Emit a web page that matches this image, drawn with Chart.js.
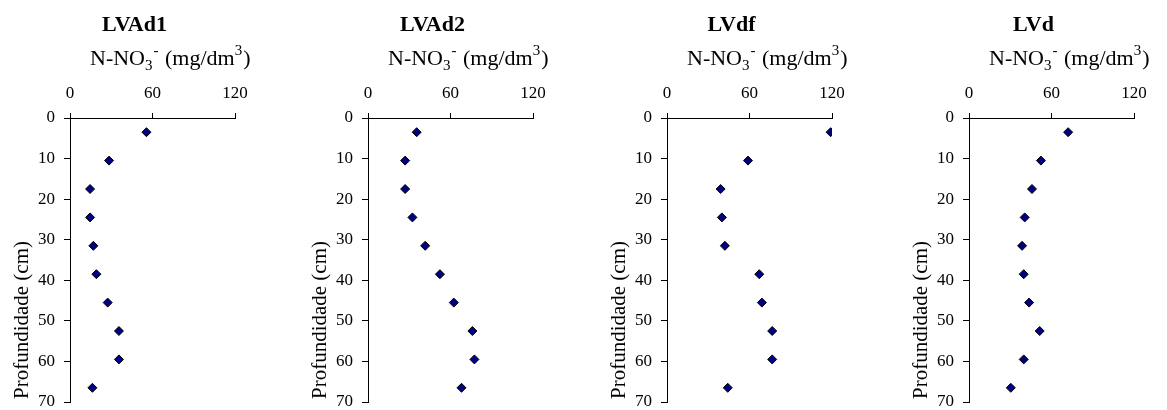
<!DOCTYPE html>
<html>
<head>
<meta charset="utf-8">
<script src="https://cdn.jsdelivr.net/npm/chart.js@4/dist/chart.umd.min.js"></script>
<style>
  body { margin: 0; background: #fff; width: 1167px; height: 410px; overflow: hidden; position: relative; }
  canvas { position: absolute; top: 0; }
</style>
</head>
<body>
<canvas id="g1" width="292" height="410" style="left:0px"></canvas>
<canvas id="g2" width="292" height="410" style="left:298px"></canvas>
<canvas id="g3" width="292" height="410" style="left:597px"></canvas>
<canvas id="g4" width="292" height="410" style="left:899px"></canvas>
<script>
// profundidade (cm), ponto médio de cada camada
const profundidade = [3.5, 10.5, 17.5, 24.5, 31.5, 38.5, 45.5, 52.5, 59.5, 66.5];
// N-NO3- (mg/dm3) por solo
const lvad1 = [55.6, 28.4, 14.6, 14.6, 17.0, 19.2, 27.4, 35.6, 35.6, 16.3];
const lvad2 = [35.4, 27.0, 27.0, 32.3, 41.6, 52.3, 62.4, 75.9, 77.4, 68.0];
const lvdf = [119.0, 58.9, 39.0, 39.9, 42.1, 67.1, 69.0, 76.5, 76.5, 44.2];
const lvd = [72.1, 52.3, 45.8, 40.5, 38.6, 39.8, 43.7, 51.4, 39.8, 30.4];
const titulos = ['LVAd1', 'LVAd2', 'LVdf', 'LVd'];
const xTicks = [0, 60, 120];
const yTicks = [0, 10, 20, 30, 40, 50, 60, 70];

const fonte = '"Liberation Serif", "Times New Roman", serif';

// títulos desenhados à mão (sub/sobrescrito no eixo x)
const titulosPlugin = {
    id: 'titulos',
    afterDraw(chart, args, opts) {
        const ctx = chart.ctx;
        const area = chart.chartArea;
        const meio = (area.left + area.right) / 2;
        ctx.save();
        ctx.fillStyle = '#000';
        ctx.textBaseline = 'alphabetic';
        // nome do solo
        ctx.font = 'bold 22px ' + fonte;
        ctx.textAlign = 'center';
        ctx.fillText(opts.nome, meio - 18, 31);
        // título do eixo x: N-NO3- (mg/dm3)
        const partes = [
            ['N-NO', 22, 0], ['3', 15, 5], ['-', 15, -10],
            [' (mg/dm', 22, 0], ['3', 15, -10], [')', 22, 0]
        ];
        ctx.textAlign = 'left';
        let x = area.left + 20;
        partes.forEach(([t, s, dy]) => {
            ctx.font = s + 'px ' + fonte;
            ctx.fillText(t, x, 65 + dy);
            x += ctx.measureText(t).width + (t === '3' || t === '-' ? 1 : 0);
        });
        // título do eixo y
        ctx.font = '21px ' + fonte;
        ctx.translate(area.left - 48, 320);
        ctx.rotate(-Math.PI / 2);
        ctx.textAlign = 'center';
        ctx.textBaseline = 'middle';
        ctx.fillText('Profundidade (cm)', 0, 0);
        ctx.restore();
    }
};

function grafico(id, nome, valores) {
    const pontos = valores.map((v, i) => ({ x: v, y: profundidade[i] }));
    new Chart(document.getElementById(id), {
        type: 'scatter',
        data: {
            datasets: [{
                data: pontos,
                pointStyle: 'rectRot',
                pointRadius: 4.5,
                pointHoverRadius: 4.5,
                backgroundColor: '#000080',
                borderColor: '#000',
                borderWidth: 1
            }]
        },
        options: {
            responsive: false,
            animation: false,
            events: [],
            layout: { padding: { top: 0, left: 0, right: 57, bottom: 8 } },
            plugins: {
                legend: { display: false },
                tooltip: { enabled: false },
                titulos: { nome: nome }
            },
            scales: {
                x: {
                    type: 'linear',
                    position: 'top',
                    min: 0,
                    max: 120,
                    afterBuildTicks: s => { s.ticks = xTicks.map(v => ({ value: v })); },
                    afterFit: s => { s.height = 118; s.paddingLeft = 0; s.paddingRight = 0; },
                    grid: { drawOnChartArea: false, color: '#000', tickLength: 5 },
                    border: { color: '#000' },
                    ticks: { color: '#000', padding: 9, maxRotation: 0, font: { family: fonte, size: 17 } }
                },
                y: {
                    type: 'linear',
                    reverse: true,
                    min: 0,
                    max: 70,
                    afterBuildTicks: s => { s.ticks = yTicks.map(v => ({ value: v })); },
                    afterFit: s => { s.width = 70; s.paddingTop = 0; s.paddingBottom = 0; },
                    grid: { drawOnChartArea: false, color: '#000', tickLength: 6 },
                    border: { color: '#000' },
                    ticks: { color: '#000', padding: 9, font: { family: fonte, size: 17 } }
                }
            }
        },
        plugins: [titulosPlugin]
    });
}

grafico('g1', titulos[0], lvad1);
grafico('g2', titulos[1], lvad2);
grafico('g3', titulos[2], lvdf);
grafico('g4', titulos[3], lvd);
</script>
</body>
</html>
